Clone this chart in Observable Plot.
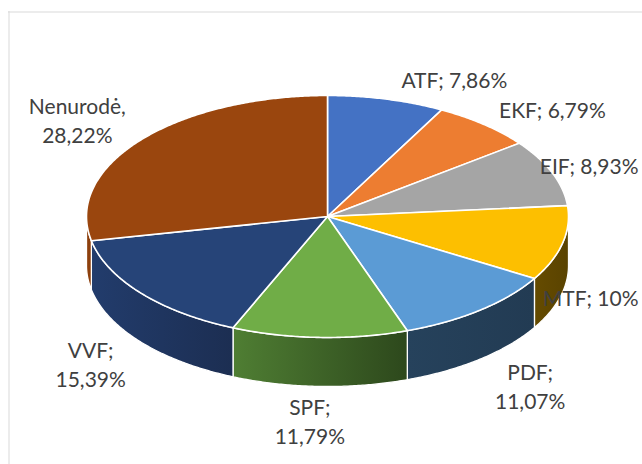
<!DOCTYPE html>
<html><head><meta charset="utf-8">
<script src="https://cdn.jsdelivr.net/npm/d3@7"></script>
<script src="https://cdn.jsdelivr.net/npm/@observablehq/plot@0.6"></script>
<style>html,body{margin:0;padding:0;background:#fff;overflow:hidden}</style>
</head><body><div id="chart"></div>
<script>
// ---- data ----
const categories = ["ATF", "EKF", "EIF", "MTF", "PDF", "SPF", "VVF", "Nenurodė"];
const values = [7.86, 6.79, 8.93, 10, 11.07, 11.79, 15.39, 28.22];
const labelTexts = ["ATF; 7,86%", "EKF; 6,79%", "EIF; 8,93%", "MTF; 10%", "PDF;\n11,07%", "SPF;\n11,79%", "VVF;\n15,39%", "Nenurodė,\n28,22%"];
const topColors = ["#4472c4", "#ed7d31", "#a5a5a5", "#fdbf00", "#5b9bd5", "#70ad47", "#264478", "#9a460e"];
const sideLight = ["#35599a", "#b9611f", "#808080", "#654b00", "#26425c", "#4f7e33", "#223c6c", "#8f410d"];
const sideDark  = ["#2b4a80", "#9a4f18", "#6a6a6a", "#5a4300", "#223b53", "#2d481c", "#1c2e52", "#8a3e0c"];

// ---- layout ----
const W = 642, H = 464;
const cx = 327, cy = 216, rx = 241, ry = 121, depth = 49;
const fontSize = 21, lineGap = 29, fontFamily = "Lato";

const pie = d3.pie().sort(null).startAngle(0).endAngle(2 * Math.PI)(values);
const px = a => cx + rx * Math.sin(a);
const py = a => cy - ry * Math.cos(a);
const step = Math.PI / 360;

function arcPts(a0, a1) {
  const n = Math.max(2, Math.ceil((a1 - a0) / step));
  return d3.range(n + 1).map(i => a0 + (a1 - a0) * i / n);
}

const tops = pie.map((p, i) => {
  const pts = [{x: cx, y: cy}].concat(arcPts(p.startAngle, p.endAngle).map(a => ({x: px(a), y: py(a)})));
  return {i, pts};
});

const sides = [];
pie.forEach((p, i) => {
  const s = Math.max(p.startAngle, Math.PI / 2), e = Math.min(p.endAngle, 3 * Math.PI / 2);
  if (e <= s) return;
  const as = arcPts(s, e);
  const pts = as.map(a => ({x: px(a), y: py(a)}))
    .concat(as.slice().reverse().map(a => ({x: px(a), y: py(a) + depth})));
  sides.push({i, pts});
});

// label placement
const ctx = document.createElement("canvas").getContext("2d");
ctx.font = `${fontSize}px ${fontFamily}`;
const labels = pie.map((p, i) => {
  const lines = labelTexts[i].split("\n");
  const w = d3.max(lines, l => ctx.measureText(l).width);
  const h = lines.length * lineGap - 9;
  const m = (p.startAngle + p.endAngle) / 2;
  const s = Math.sin(m), c = Math.cos(m);
  const ax = px(m), ay = py(m) + (c < 0 ? depth : 0);
  const g = 15;
  const sat = Math.max(-1, Math.min(1, s * 6));
  let x = ax + (w / 2 + g) * sat;
  const y = ay - (h / 2 + g) * c * 0.85;
  x = Math.min(x, 638 - w / 2);
  x = Math.max(x, 12 + w / 2);
  return {x, y, text: labelTexts[i]};
});

// gradient defs
const defsMark = () => {
  const ns = "http://www.w3.org/2000/svg";
  const defs = document.createElementNS(ns, "defs");
  categories.forEach((c, i) => {
    const lg = document.createElementNS(ns, "linearGradient");
    lg.setAttribute("id", "side" + i);
    lg.setAttribute("x1", "0"); lg.setAttribute("x2", "1");
    lg.setAttribute("y1", "0"); lg.setAttribute("y2", "0");
    [[0, sideLight[i]], [1, sideDark[i]]].forEach(([o, col]) => {
      const st = document.createElementNS(ns, "stop");
      st.setAttribute("offset", o);
      st.setAttribute("stop-color", col);
      lg.appendChild(st);
    });
    defs.appendChild(lg);
  });
  const g = document.createElementNS(ns, "g");
  g.appendChild(defs);
  return g;
};

const marks = [defsMark,
  Plot.ruleY([11.5], {x1: 8, x2: W, stroke: "#d9d9d9", strokeWidth: 1}),
  Plot.ruleX([8.5], {y1: 11, y2: H, stroke: "#d9d9d9", strokeWidth: 1})
];
sides.forEach(sd => marks.push(Plot.line(sd.pts, {
  x: "x", y: "y", curve: "linear-closed", fill: `url(#side${sd.i})`,
  stroke: "white", strokeWidth: 1.3, strokeLinejoin: "round"
})));
tops.forEach(t => marks.push(Plot.line(t.pts, {
  x: "x", y: "y", curve: "linear-closed", fill: topColors[t.i],
  stroke: "white", strokeWidth: 1.6, strokeLinejoin: "round"
})));
marks.push(Plot.text(labels, {
  x: "x", y: "y", text: "text", fontSize, fontFamily, fill: "#404040",
  textAnchor: "middle", lineAnchor: "middle", lineHeight: lineGap / fontSize
}));

const chart = Plot.plot({
  width: W, height: H, margin: 0,
  x: {domain: [0, W], range: [0, W], axis: null},
  y: {domain: [0, H], range: [0, H], axis: null},
  style: {background: "white", fontFamily, overflow: "hidden"},
  marks
});
document.getElementById("chart").appendChild(chart);
</script>
</body></html>
